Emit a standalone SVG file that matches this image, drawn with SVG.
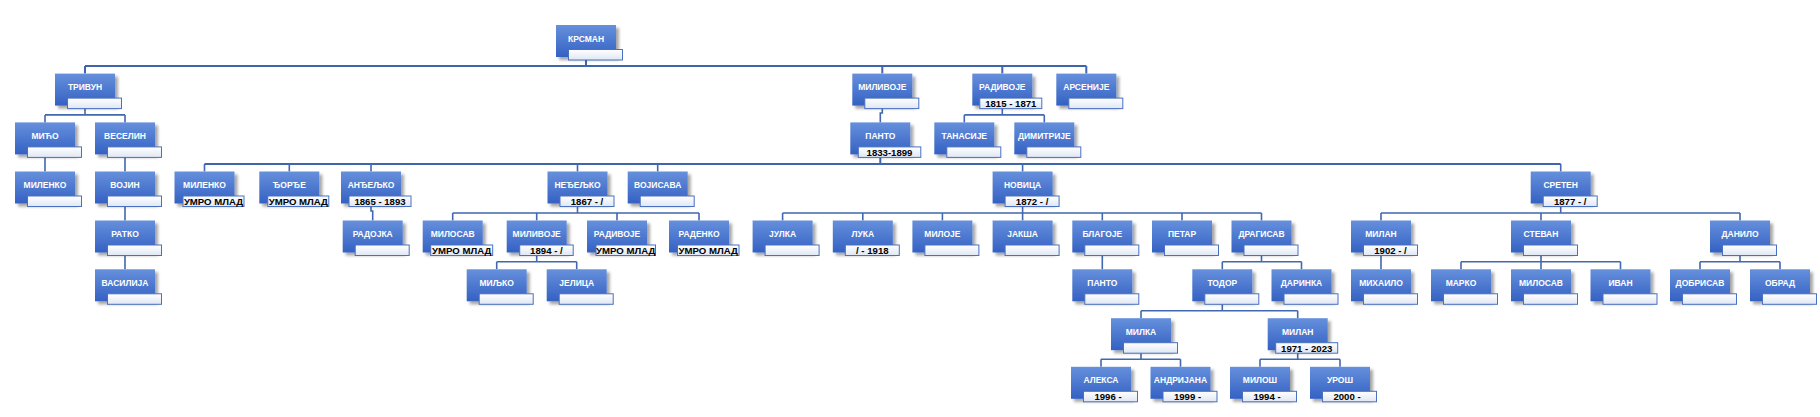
<svg xmlns="http://www.w3.org/2000/svg" width="1820" height="417" viewBox="0 0 1820 417">
<defs>
<linearGradient id="gBox" x1="0" y1="0" x2="0" y2="1">
<stop offset="0" stop-color="#6690dc"/>
<stop offset="1" stop-color="#3461c3"/>
</linearGradient>
<linearGradient id="gSub" x1="0" y1="0" x2="0" y2="1">
<stop offset="0" stop-color="#ffffff"/>
<stop offset="1" stop-color="#dfe7f4"/>
</linearGradient>
<filter id="sh" x="-20%" y="-20%" width="150%" height="160%">
<feDropShadow dx="3" dy="3" stdDeviation="1.5" flood-color="#000" flood-opacity="0.35"/>
</filter>
<style>
.box{fill:url(#gBox);filter:url(#sh);}
.sub{fill:url(#gSub);stroke:#4a71c0;stroke-width:1;}
.nm{font-family:"Liberation Sans",Arial,sans-serif;font-weight:bold;font-size:8.5px;fill:#ffffff;text-anchor:middle;}
.st{font-family:"Liberation Sans",Arial,sans-serif;font-weight:bold;font-size:9.6px;fill:#000000;text-anchor:middle;}
.cn{fill:none;stroke:#4168b0;stroke-width:1.6;}
.cn2{fill:none;stroke:#3f66ad;stroke-width:2;}
</style>
</defs>
<rect width="1820" height="417" fill="#ffffff"/>
<g id="connectors">
<path class="cn2" d="M586,57V66.1M85,66.1H1086.3M85,66.1V73.6M882.3,66.1V73.6M1002.3,66.1V73.6M1086.3,66.1V73.6"/>
<path class="cn" d="M85,105.6V114.9M45,114.9H125M45,114.9V122.4M125,114.9V122.4"/>
<path class="cn" d="M882.3,105.6V113H880.3V122.4"/>
<path class="cn" d="M1002.3,105.6V114.9M964.3,114.9H1044.3M964.3,114.9V122.4M1044.3,114.9V122.4"/>
<path class="cn" d="M45,154.4V171.5M125,154.4V171.5"/>
<path class="cn2" d="M880.3,154.4V164M204.5,164H1560.7"/>
<path class="cn" d="M204.5,164V171.5M289.3,164V171.5M371,164V171.5M577.5,164V171.5M657.7,164V171.5M1022.6,164V171.5M1560.7,164V171.5"/>
<path class="cn" d="M125,203.5V220.5"/>
<path class="cn" d="M371,203.5V211H372.7V220.5"/>
<path class="cn" d="M577.5,203.5V213M452.7,213H699M452.7,213V220.5M536.7,213V220.5M617,213V220.5M699,213V220.5"/>
<path class="cn" d="M1022.6,203.5V213M782.6,213H1261.5M782.6,213V220.5M862.8,213V220.5M942.4,213V220.5M1022.6,213V220.5M1102.3,213V220.5M1182,213V220.5M1261.5,213V220.5"/>
<path class="cn" d="M1560.7,203.5V213M1381,213H1740M1381,213V220.5M1541,213V220.5M1740,213V220.5"/>
<path class="cn" d="M125,252.5V269.3M1102.3,252.5V269.3M1381,252.5V269.3"/>
<path class="cn" d="M536.7,252.5V261.8M496.7,261.8H576.7M496.7,261.8V269.3M576.7,261.8V269.3"/>
<path class="cn" d="M1261.5,252.5V261.8M1222.3,261.8H1301.5M1222.3,261.8V269.3M1301.5,261.8V269.3"/>
<path class="cn" d="M1541,252.5V261.8M1461,261.8H1620.5M1461,261.8V269.3M1541,261.8V269.3M1620.5,261.8V269.3"/>
<path class="cn" d="M1740,252.5V261.8M1700,261.8H1780M1700,261.8V269.3M1780,261.8V269.3"/>
<path class="cn" d="M1222.3,301.3V310.7M1141,310.7H1297.7M1141,310.7V318.2M1297.7,310.7V318.2"/>
<path class="cn" d="M1141,350.2V359.3M1101,359.3H1180.5M1101,359.3V366.8M1180.5,359.3V366.8"/>
<path class="cn" d="M1297.7,350.2V359.3M1260,359.3H1340M1260,359.3V366.8M1340,359.3V366.8"/>
</g>
<g id="krsman" transform="translate(556,25)"><rect class="box" width="60" height="32"/><rect class="sub" x="12.5" y="24.5" width="54" height="10.5"/><text class="nm" x="30" y="16.5">КРСМАН</text></g>
<g id="trivun" transform="translate(55,73.6)"><rect class="box" width="60" height="32"/><rect class="sub" x="12.5" y="24.5" width="54" height="10.5"/><text class="nm" x="30" y="16.5">ТРИВУН</text></g>
<g id="milivoje1" transform="translate(852.3,73.6)"><rect class="box" width="60" height="32"/><rect class="sub" x="12.5" y="24.5" width="54" height="10.5"/><text class="nm" x="30" y="16.5">МИЛИВОЈЕ</text></g>
<g id="radivoje1" transform="translate(972.3,73.6)"><rect class="box" width="60" height="32"/><rect class="sub" x="7.5" y="24.5" width="62" height="10.5"/><text class="nm" x="30" y="16.5">РАДИВОЈЕ</text><text class="st" x="38.5" y="33.6">1815 - 1871</text></g>
<g id="arsenije" transform="translate(1056.3,73.6)"><rect class="box" width="60" height="32"/><rect class="sub" x="12.5" y="24.5" width="54" height="10.5"/><text class="nm" x="30" y="16.5">АРСЕНИЈЕ</text></g>
<g id="mico" transform="translate(15,122.4)"><rect class="box" width="60" height="32"/><rect class="sub" x="12.5" y="24.5" width="54" height="10.5"/><text class="nm" x="30" y="16.5">МИЋО</text></g>
<g id="veselin" transform="translate(95,122.4)"><rect class="box" width="60" height="32"/><rect class="sub" x="12.5" y="24.5" width="54" height="10.5"/><text class="nm" x="30" y="16.5">ВЕСЕЛИН</text></g>
<g id="panto1" transform="translate(850.3,122.4)"><rect class="box" width="60" height="32"/><rect class="sub" x="8" y="24.5" width="62.5" height="10.5"/><text class="nm" x="30" y="16.5">ПАНТО</text><text class="st" x="39.2" y="33.6">1833-1899</text></g>
<g id="tanasije" transform="translate(934.3,122.4)"><rect class="box" width="60" height="32"/><rect class="sub" x="12.5" y="24.5" width="54" height="10.5"/><text class="nm" x="30" y="16.5">ТАНАСИЈЕ</text></g>
<g id="dimitrije" transform="translate(1014.3,122.4)"><rect class="box" width="60" height="32"/><rect class="sub" x="12.5" y="24.5" width="54" height="10.5"/><text class="nm" x="30" y="16.5">ДИМИТРИЈЕ</text></g>
<g id="milenko1" transform="translate(15,171.5)"><rect class="box" width="60" height="32"/><rect class="sub" x="12.5" y="24.5" width="54" height="10.5"/><text class="nm" x="30" y="16.5">МИЛЕНКО</text></g>
<g id="vojin" transform="translate(95,171.5)"><rect class="box" width="60" height="32"/><rect class="sub" x="12.5" y="24.5" width="54" height="10.5"/><text class="nm" x="30" y="16.5">ВОЈИН</text></g>
<g id="milenko2" transform="translate(174.5,171.5)"><rect class="box" width="60" height="32"/><rect class="sub" x="8.5" y="24.5" width="61" height="10.5"/><text class="nm" x="30" y="16.5">МИЛЕНКО</text><text class="st" x="39" y="33.6">УМРО МЛАД</text></g>
<g id="djordje" transform="translate(259.3,171.5)"><rect class="box" width="60" height="32"/><rect class="sub" x="8.5" y="24.5" width="61" height="10.5"/><text class="nm" x="30" y="16.5">ЂОРЂЕ</text><text class="st" x="39" y="33.6">УМРО МЛАД</text></g>
<g id="andjeljko" transform="translate(341,171.5)"><rect class="box" width="60" height="32"/><rect class="sub" x="8" y="24.5" width="62" height="10.5"/><text class="nm" x="30" y="16.5">АНЂЕЉКО</text><text class="st" x="39" y="33.6">1865 - 1893</text></g>
<g id="nedjeljko" transform="translate(547.5,171.5)"><rect class="box" width="60" height="32"/><rect class="sub" x="12.5" y="24.5" width="54" height="10.5"/><text class="nm" x="30" y="16.5">НЕЂЕЉКО</text><text class="st" x="39.5" y="33.6">1867 - /</text></g>
<g id="vojisava" transform="translate(627.7,171.5)"><rect class="box" width="60" height="32"/><rect class="sub" x="12.5" y="24.5" width="54" height="10.5"/><text class="nm" x="30" y="16.5">ВОЈИСАВА</text></g>
<g id="novica" transform="translate(992.6,171.5)"><rect class="box" width="60" height="32"/><rect class="sub" x="12.5" y="24.5" width="54" height="10.5"/><text class="nm" x="30" y="16.5">НОВИЦА</text><text class="st" x="39.5" y="33.6">1872 - /</text></g>
<g id="sreten" transform="translate(1530.7,171.5)"><rect class="box" width="60" height="32"/><rect class="sub" x="12.5" y="24.5" width="54" height="10.5"/><text class="nm" x="30" y="16.5">СРЕТЕН</text><text class="st" x="39.5" y="33.6">1877 - /</text></g>
<g id="ratko" transform="translate(95,220.5)"><rect class="box" width="60" height="32"/><rect class="sub" x="12.5" y="24.5" width="54" height="10.5"/><text class="nm" x="30" y="16.5">РАТКО</text></g>
<g id="radojka" transform="translate(342.7,220.5)"><rect class="box" width="60" height="32"/><rect class="sub" x="12.5" y="24.5" width="54" height="10.5"/><text class="nm" x="30" y="16.5">РАДОЈКА</text></g>
<g id="milosav1" transform="translate(422.7,220.5)"><rect class="box" width="60" height="32"/><rect class="sub" x="8" y="24.5" width="62" height="10.5"/><text class="nm" x="30" y="16.5">МИЛОСАВ</text><text class="st" x="39" y="33.6">УМРО МЛАД</text></g>
<g id="milivoje2" transform="translate(506.7,220.5)"><rect class="box" width="60" height="32"/><rect class="sub" x="13" y="24.5" width="53.5" height="10.5"/><text class="nm" x="30" y="16.5">МИЛИВОЈЕ</text><text class="st" x="39.7" y="33.6">1894 - /</text></g>
<g id="radivoje2" transform="translate(587,220.5)"><rect class="box" width="60" height="32"/><rect class="sub" x="9" y="24.5" width="59.5" height="10.5"/><text class="nm" x="30" y="16.5">РАДИВОЈЕ</text><text class="st" x="38.7" y="33.6">УМРО МЛАД</text></g>
<g id="radenko" transform="translate(669,220.5)"><rect class="box" width="60" height="32"/><rect class="sub" x="8.5" y="24.5" width="61.5" height="10.5"/><text class="nm" x="30" y="16.5">РАДЕНКО</text><text class="st" x="39.2" y="33.6">УМРО МЛАД</text></g>
<g id="julka" transform="translate(752.6,220.5)"><rect class="box" width="60" height="32"/><rect class="sub" x="12.5" y="24.5" width="54" height="10.5"/><text class="nm" x="30" y="16.5">ЈУЛКА</text></g>
<g id="luka" transform="translate(832.8,220.5)"><rect class="box" width="60" height="32"/><rect class="sub" x="12.5" y="24.5" width="54" height="10.5"/><text class="nm" x="30" y="16.5">ЛУКА</text><text class="st" x="39.5" y="33.6">/ - 1918</text></g>
<g id="miloje" transform="translate(912.4,220.5)"><rect class="box" width="60" height="32"/><rect class="sub" x="12.5" y="24.5" width="54" height="10.5"/><text class="nm" x="30" y="16.5">МИЛОЈЕ</text></g>
<g id="jaksa" transform="translate(992.6,220.5)"><rect class="box" width="60" height="32"/><rect class="sub" x="12.5" y="24.5" width="54" height="10.5"/><text class="nm" x="30" y="16.5">ЈАКША</text></g>
<g id="blagoje" transform="translate(1072.3,220.5)"><rect class="box" width="60" height="32"/><rect class="sub" x="12.5" y="24.5" width="54" height="10.5"/><text class="nm" x="30" y="16.5">БЛАГОЈЕ</text></g>
<g id="petar" transform="translate(1152,220.5)"><rect class="box" width="60" height="32"/><rect class="sub" x="12.5" y="24.5" width="54" height="10.5"/><text class="nm" x="30" y="16.5">ПЕТАР</text></g>
<g id="dragisav" transform="translate(1231.5,220.5)"><rect class="box" width="60" height="32"/><rect class="sub" x="12.5" y="24.5" width="54" height="10.5"/><text class="nm" x="30" y="16.5">ДРАГИСАВ</text></g>
<g id="milan1" transform="translate(1351,220.5)"><rect class="box" width="60" height="32"/><rect class="sub" x="12.5" y="24.5" width="54" height="10.5"/><text class="nm" x="30" y="16.5">МИЛАН</text><text class="st" x="39.5" y="33.6">1902 - /</text></g>
<g id="stevan" transform="translate(1511,220.5)"><rect class="box" width="60" height="32"/><rect class="sub" x="12.5" y="24.5" width="54" height="10.5"/><text class="nm" x="30" y="16.5">СТЕВАН</text></g>
<g id="danilo" transform="translate(1710,220.5)"><rect class="box" width="60" height="32"/><rect class="sub" x="12.5" y="24.5" width="54" height="10.5"/><text class="nm" x="30" y="16.5">ДАНИЛО</text></g>
<g id="vasilija" transform="translate(95,269.3)"><rect class="box" width="60" height="32"/><rect class="sub" x="12.5" y="24.5" width="54" height="10.5"/><text class="nm" x="30" y="16.5">ВАСИЛИЈА</text></g>
<g id="miljko" transform="translate(466.7,269.3)"><rect class="box" width="60" height="32"/><rect class="sub" x="12.5" y="24.5" width="54" height="10.5"/><text class="nm" x="30" y="16.5">МИЉКО</text></g>
<g id="jelica" transform="translate(546.7,269.3)"><rect class="box" width="60" height="32"/><rect class="sub" x="12.5" y="24.5" width="54" height="10.5"/><text class="nm" x="30" y="16.5">ЈЕЛИЦА</text></g>
<g id="panto2" transform="translate(1072.3,269.3)"><rect class="box" width="60" height="32"/><rect class="sub" x="12.5" y="24.5" width="54" height="10.5"/><text class="nm" x="30" y="16.5">ПАНТО</text></g>
<g id="todor" transform="translate(1192.3,269.3)"><rect class="box" width="60" height="32"/><rect class="sub" x="12.5" y="24.5" width="54" height="10.5"/><text class="nm" x="30" y="16.5">ТОДОР</text></g>
<g id="darinka" transform="translate(1271.5,269.3)"><rect class="box" width="60" height="32"/><rect class="sub" x="12.5" y="24.5" width="54" height="10.5"/><text class="nm" x="30" y="16.5">ДАРИНКА</text></g>
<g id="mihailo" transform="translate(1351,269.3)"><rect class="box" width="60" height="32"/><rect class="sub" x="12.5" y="24.5" width="54" height="10.5"/><text class="nm" x="30" y="16.5">МИХАИЛО</text></g>
<g id="marko" transform="translate(1431,269.3)"><rect class="box" width="60" height="32"/><rect class="sub" x="12.5" y="24.5" width="54" height="10.5"/><text class="nm" x="30" y="16.5">МАРКО</text></g>
<g id="milosav2" transform="translate(1511,269.3)"><rect class="box" width="60" height="32"/><rect class="sub" x="12.5" y="24.5" width="54" height="10.5"/><text class="nm" x="30" y="16.5">МИЛОСАВ</text></g>
<g id="ivan" transform="translate(1590.5,269.3)"><rect class="box" width="60" height="32"/><rect class="sub" x="12.5" y="24.5" width="54" height="10.5"/><text class="nm" x="30" y="16.5">ИВАН</text></g>
<g id="dobrisav" transform="translate(1670,269.3)"><rect class="box" width="60" height="32"/><rect class="sub" x="12.5" y="24.5" width="54" height="10.5"/><text class="nm" x="30" y="16.5">ДОБРИСАВ</text></g>
<g id="obrad" transform="translate(1750,269.3)"><rect class="box" width="60" height="32"/><rect class="sub" x="12.5" y="24.5" width="54" height="10.5"/><text class="nm" x="30" y="16.5">ОБРАД</text></g>
<g id="milka" transform="translate(1111,318.2)"><rect class="box" width="60" height="32"/><rect class="sub" x="12.5" y="24.5" width="54" height="10.5"/><text class="nm" x="30" y="16.5">МИЛКА</text></g>
<g id="milan2" transform="translate(1267.7,318.2)"><rect class="box" width="60" height="32"/><rect class="sub" x="8" y="24.5" width="62" height="10.5"/><text class="nm" x="30" y="16.5">МИЛАН</text><text class="st" x="39" y="33.6">1971 - 2023</text></g>
<g id="aleksa" transform="translate(1071,366.8)"><rect class="box" width="60" height="32"/><rect class="sub" x="12.5" y="24.5" width="54" height="10.5"/><text class="nm" x="30" y="16.5">АЛЕКСА</text><text class="st" x="37" y="33.6">1996 -</text></g>
<g id="andrijana" transform="translate(1150.5,366.8)"><rect class="box" width="60" height="32"/><rect class="sub" x="12.5" y="24.5" width="54" height="10.5"/><text class="nm" x="30" y="16.5">АНДРИЈАНА</text><text class="st" x="37" y="33.6">1999 -</text></g>
<g id="milos" transform="translate(1230,366.8)"><rect class="box" width="60" height="32"/><rect class="sub" x="12.5" y="24.5" width="54" height="10.5"/><text class="nm" x="30" y="16.5">МИЛОШ</text><text class="st" x="37" y="33.6">1994 -</text></g>
<g id="uros" transform="translate(1310,366.8)"><rect class="box" width="60" height="32"/><rect class="sub" x="12.5" y="24.5" width="54" height="10.5"/><text class="nm" x="30" y="16.5">УРОШ</text><text class="st" x="37" y="33.6">2000 -</text></g>
</svg>
